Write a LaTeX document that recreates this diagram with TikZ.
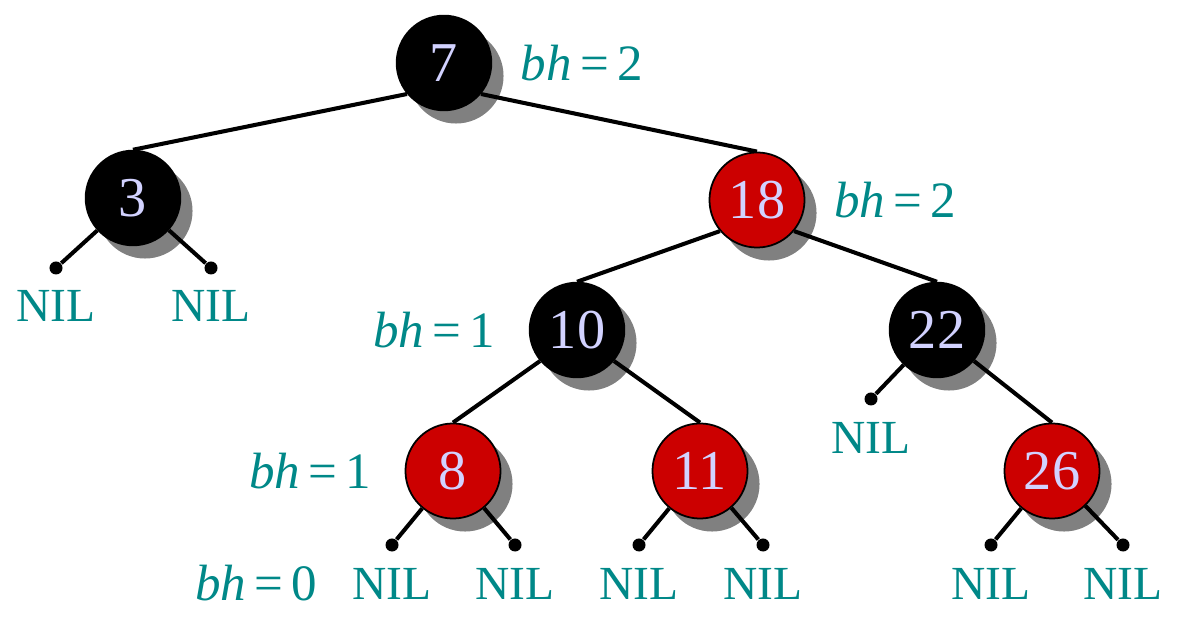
\documentclass[tikz,border=0pt]{standalone}
\usepackage{fontspec}
\setmainfont{Liberation Serif}
\usetikzlibrary{positioning}
\definecolor{rbred}{RGB}{204,0,0}
\definecolor{keylav}{RGB}{210,210,255}
\definecolor{bhteal}{RGB}{0,136,136}
\definecolor{shadowgray}{RGB}{128,128,128}
\pgfdeclarelayer{shadow}
\pgfdeclarelayer{edges}
\pgfsetlayers{shadow,edges,main}
\newcommand{\bhval}[1]{\textit{bh}\hspace{0.16em}=\hspace{0.16em}#1}

\begin{document}
\begin{tikzpicture}[
    x=0.01cm, y=-0.01cm,
    black node/.style={circle, draw=black, fill=black, minimum size=0.95cm, inner sep=0pt, text=keylav, font=\fontsize{16}{16}\selectfont},
    red node/.style={black node, fill=rbred, line width=0.5pt},
    nil/.style={circle, fill=black, minimum size=0.13cm, inner sep=0pt},
    niltext/.style={text=bhteal, inner sep=0pt, font=\fontsize{13.5}{14}\selectfont},
    bh/.style={text=bhteal, inner sep=0pt, font=\fontsize{14.5}{16}\selectfont},
    edge/.style={line width=1.15pt},
]
\useasboundingbox (0,0) rectangle (1197,619);

% === Tree nodes ===
\node[black node] (n7) at (444,63) {7};
\node[black node] (n3) at (133,198) {3};
\node[red node] (n18) at (757,200) {18};
\node[black node] (n10) at (577,330) {10};
\node[black node] (n22) at (937,330) {22};
\node[red node] (n8) at (453,471) {8};
\node[red node] (n11) at (700,471) {11};
\node[red node] (n26) at (1052,471) {26};

% === NIL leaves ===
\node[nil] (d3a) at (56,268) {};
\node[nil] (d3b) at (211,268) {};
\node[nil] (d22a) at (871,399) {};
\node[nil] (d8a) at (392,545) {};
\node[nil] (d8b) at (515,545) {};
\node[nil] (d11a) at (639,545) {};
\node[nil] (d11b) at (763,545) {};
\node[nil] (d26a) at (991,545) {};
\node[nil] (d26b) at (1123,545) {};
\foreach \d in {d3a,d3b,d22a,d8a,d8b,d11a,d11b,d26a,d26b}
    \node[niltext, below=0.15cm of \d] (t\d) {NIL};

% === Black-height labels ===
\node[bh, right=0.28cm of n7] (bh7) {\bhval{2}};
\node[bh, right=0.28cm of n18] (bh18) {\bhval{2}};
\node[bh, left=0.33cm of n10] (bh10) {\bhval{1}};
\node[bh, left=0.33cm of n8] (bh8) {\bhval{1}};
\node[bh, left=0.34cm of td8a] (bh0) {\bhval{0}};

% === Shadows ===
\begin{pgfonlayer}{shadow}
\foreach \n in {n7,n3,n18,n10,n22,n8,n11,n26}
    \fill[shadowgray] ([shift={(12,13)}]\n.center) circle[radius=0.475cm];
\end{pgfonlayer}

% === Edges ===
\begin{pgfonlayer}{edges}
\draw[edge] (n7.-140) -- (n3.north);
\draw[edge] (n7.-40) -- (n18.north);
\draw[edge] (n18.-140) -- (n10.north);
\draw[edge] (n18.-40) -- (n22.north);
\draw[edge] (n10.-140) -- (n8.north);
\draw[edge] (n10.-40) -- (n11.north);
\draw[edge] (n22.-40) -- (n26.north);
\draw[edge] (n3) -- (d3a);
\draw[edge] (n3) -- (d3b);
\draw[edge] (n22) -- (d22a);
\draw[edge] (n8) -- (d8a);
\draw[edge] (n8) -- (d8b);
\draw[edge] (n11) -- (d11a);
\draw[edge] (n11) -- (d11b);
\draw[edge] (n26) -- (d26a);
\draw[edge] (n26) -- (d26b);
\end{pgfonlayer}

\end{tikzpicture}
\end{document}
